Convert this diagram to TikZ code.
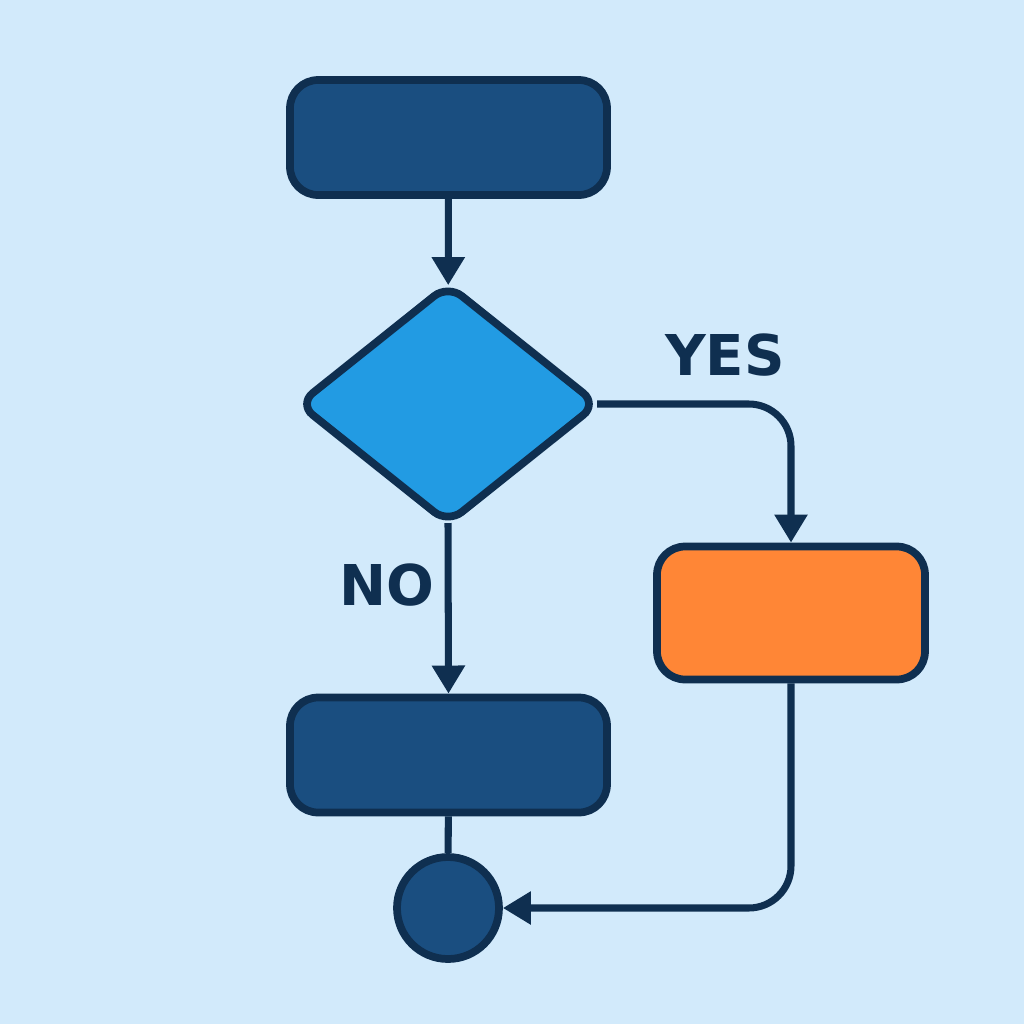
\documentclass[tikz,border=0pt]{standalone}
\usepackage{fontspec}
\setmainfont{DejaVu Sans}
\usetikzlibrary{arrows.meta,shapes.geometric}
\definecolor{bgblue}{HTML}{D2EAFB}
\definecolor{navy}{HTML}{1A4E80}
\definecolor{edge}{HTML}{0F2F50}
\definecolor{skyblue}{HTML}{229BE3}
\definecolor{orangefill}{HTML}{FF8636}
\tikzset{
    stepbox/.style={draw=edge, line width=2.2pt, rounded corners=8pt, minimum width=3.17cm, minimum height=1.15cm},
    flow/.style={draw=edge, line width=2pt, rounded corners=12pt},
    tip/.style={-{Triangle[length=8pt,width=9pt]}},
    lbl/.style={text=edge, font=\bfseries\fontsize{16}{16}\selectfont}
}
\begin{document}
\begin{tikzpicture}
        \fill[bgblue] (0, 0) rectangle (10.24, -10.24);
        \useasboundingbox (0, 0) rectangle (10.24, -10.24);
        
        % Nodes
        \node[stepbox, fill=navy] (start) at (4.485, -1.375) {};
        \node[draw=edge, line width=2.2pt, fill=skyblue, diamond, rounded corners=5pt, minimum width=2.98cm, minimum height=2.38cm, inner sep=0pt, outer sep=0pt] (check) at (4.48, -4.04) {};
        \node[stepbox, fill=orangefill, minimum width=2.68cm, minimum height=1.33cm] (yesbox) at (7.91, -6.13) {};
        \node[stepbox, fill=navy] (nobox) at (4.485, -7.55) {};
        \node[draw=edge, line width=2.2pt, fill=navy, circle, minimum size=1.02cm] (stop) at (4.48, -9.08) {};
        
        % Connectors
        \draw[flow, tip] (start) -- (check);
        \draw[flow, tip] (check.east) -| (yesbox.north);
        \draw[flow, tip] (check.south) -- (nobox.north);
        \draw[flow] (nobox) -- (stop);
        \draw[flow, tip] (yesbox.south) |- (stop.east);
        
        % Labels
        \node[lbl] (yes) at (7.25, -3.55) {YES};
        \node[lbl] (no) at (3.87, -5.85) {NO};
    \end{tikzpicture}
\end{document}
